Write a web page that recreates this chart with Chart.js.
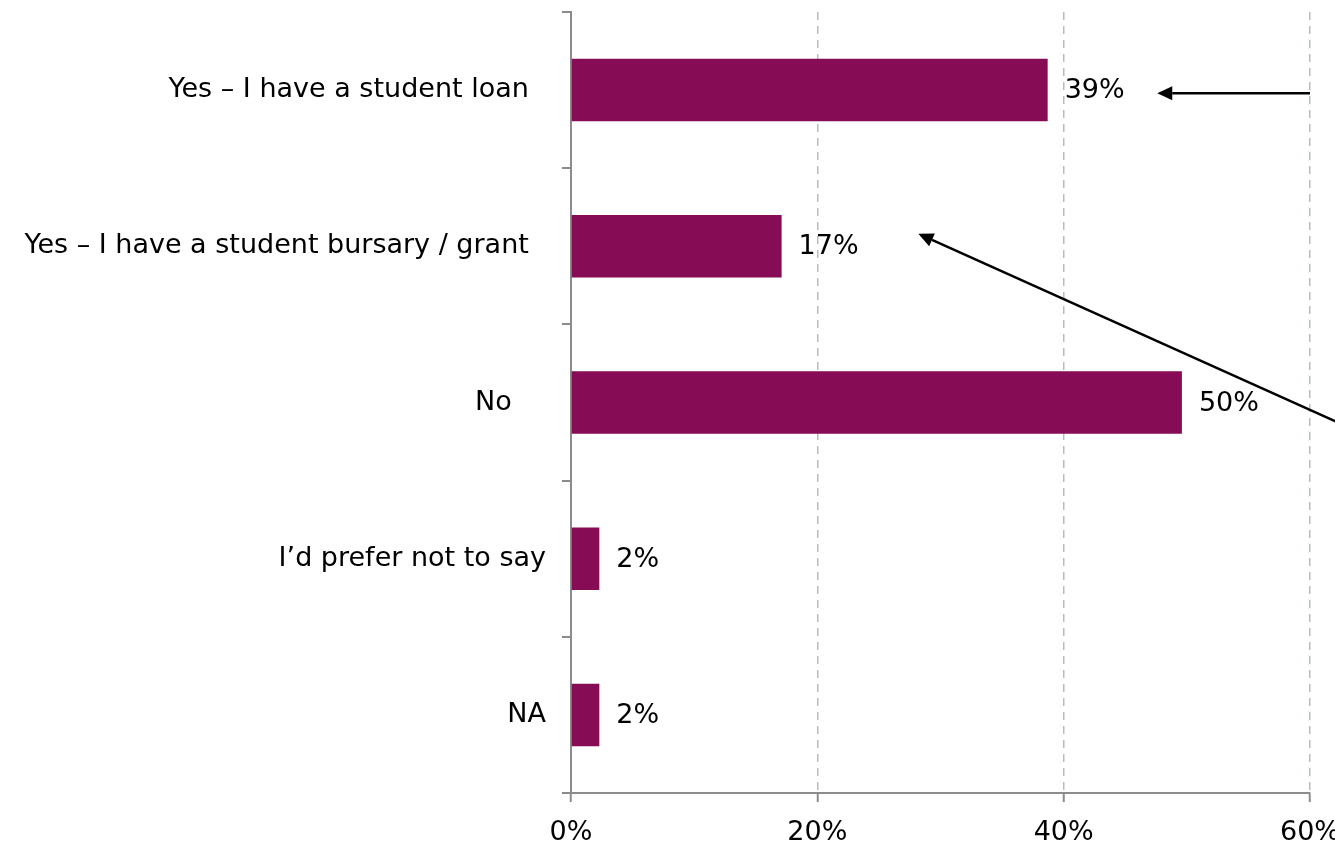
<!DOCTYPE html>
<html>
<head>
<meta charset="utf-8">
<script src="https://cdn.jsdelivr.net/npm/chart.js@4.4.1/dist/chart.umd.min.js"></script>
<style>
  html, body { margin: 0; padding: 0; background: #fff; overflow: hidden; }
  #wrap { width: 1400px; height: 841px; }
</style>
</head>
<body>
<div id="wrap"><canvas id="fundingChart"></canvas></div>
<script>
// Survey answers (labels keep the trailing spaces they came with)
const CATEGORIES = [
    'Yes – I have a student loan  ',
    'Yes – I have a student bursary / grant  ',
    'No    ',
    'I’d prefer not to say',
    'NA'
];
const SHARE = [38.7, 17.1, 49.6, 2.3, 2.3];
const X_TICKS = [0, 20, 40, 60];

const BAR_COLOR = '#850C55';
const AXIS_COLOR = '#8c8c8c';
const GRID_COLOR = '#b3bfbb';
const FONT = { family: "'DejaVu Sans', Verdana, sans-serif", size: 27 };

// Callout arrows, in axis units: [percent, category index]
const ARROWS = [
    { from: [60, 0.02], to: [47.6, 0.02] },
    { from: [66, 2.26], to: [28.2, 0.92] }
];

const valueLabels = {
    id: 'valueLabels',
    afterDatasetsDraw(chart) {
        const { ctx } = chart;
        const meta = chart.getDatasetMeta(0);
        ctx.save();
        ctx.font = `${FONT.size}px ${FONT.family}`;
        ctx.fillStyle = '#000';
        ctx.textAlign = 'left';
        ctx.textBaseline = 'middle';
        meta.data.forEach((bar, i) => {
            ctx.fillText(Math.round(SHARE[i]) + '%', bar.x + 17, bar.y + 1);
        });
        ctx.restore();
    }
};

const calloutArrows = {
    id: 'calloutArrows',
    afterDraw(chart) {
        const { ctx, scales: { x, y } } = chart;
        ctx.save();
        ctx.strokeStyle = '#000';
        ctx.fillStyle = '#000';
        ctx.lineWidth = 2.5;
        ARROWS.forEach(a => {
            const x1 = x.getPixelForValue(a.from[0]), y1 = y.getPixelForValue(a.from[1]);
            const x2 = x.getPixelForValue(a.to[0]),   y2 = y.getPixelForValue(a.to[1]);
            const ang = Math.atan2(y2 - y1, x2 - x1);
            const len = 15, half = 7;
            const bx = x2 - len * Math.cos(ang), by = y2 - len * Math.sin(ang);
            ctx.beginPath();
            ctx.moveTo(x1, y1);
            ctx.lineTo(bx, by);
            ctx.stroke();
            ctx.beginPath();
            ctx.moveTo(x2, y2);
            ctx.lineTo(bx + half * Math.sin(ang), by - half * Math.cos(ang));
            ctx.lineTo(bx - half * Math.sin(ang), by + half * Math.cos(ang));
            ctx.closePath();
            ctx.fill();
        });
        ctx.restore();
    }
};

new Chart(document.getElementById('fundingChart'), {
    type: 'bar',
    data: {
        labels: CATEGORIES,
        datasets: [{
            data: SHARE,
            backgroundColor: BAR_COLOR,
            categoryPercentage: 1,
            barPercentage: 0.4
        }]
    },
    options: {
        indexAxis: 'y',
        responsive: true,
        maintainAspectRatio: false,
        animation: false,
        layout: { padding: { top: 12, right: 90, left: 0, bottom: 0 } },
        plugins: {
            legend: { display: false },
            tooltip: { enabled: false }
        },
        scales: {
            x: {
                min: 0,
                max: 60,
                afterBuildTicks(scale) { scale.ticks = X_TICKS.map(v => ({ value: v })); },
                afterFit(scale) { scale.height = 48; },
                ticks: {
                    color: '#000',
                    font: FONT,
                    padding: 15,
                    maxRotation: 0,
                    callback: v => v + '%'
                },
                grid: {
                    color: ctx => ctx.tick && ctx.tick.value === 0 ? 'rgba(0,0,0,0)' : GRID_COLOR,
                    lineWidth: 1.5,
                    tickColor: AXIS_COLOR,
                    tickLength: 9,
                    tickWidth: 2,
                    tickBorderDash: []
                },
                border: { color: AXIS_COLOR, width: 2, dash: [8, 6] }
            },
            y: {
                afterFit(scale) {
                    scale.width = 571;
                    scale.paddingTop = 0;
                    scale.paddingBottom = 0;
                },
                ticks: { color: '#000', font: FONT, padding: 16 },
                grid: {
                    drawOnChartArea: false,
                    color: AXIS_COLOR,
                    tickLength: 9,
                    lineWidth: 2
                },
                border: { color: AXIS_COLOR, width: 2 }
            }
        }
    },
    plugins: [valueLabels, calloutArrows]
});
</script>
</body>
</html>
